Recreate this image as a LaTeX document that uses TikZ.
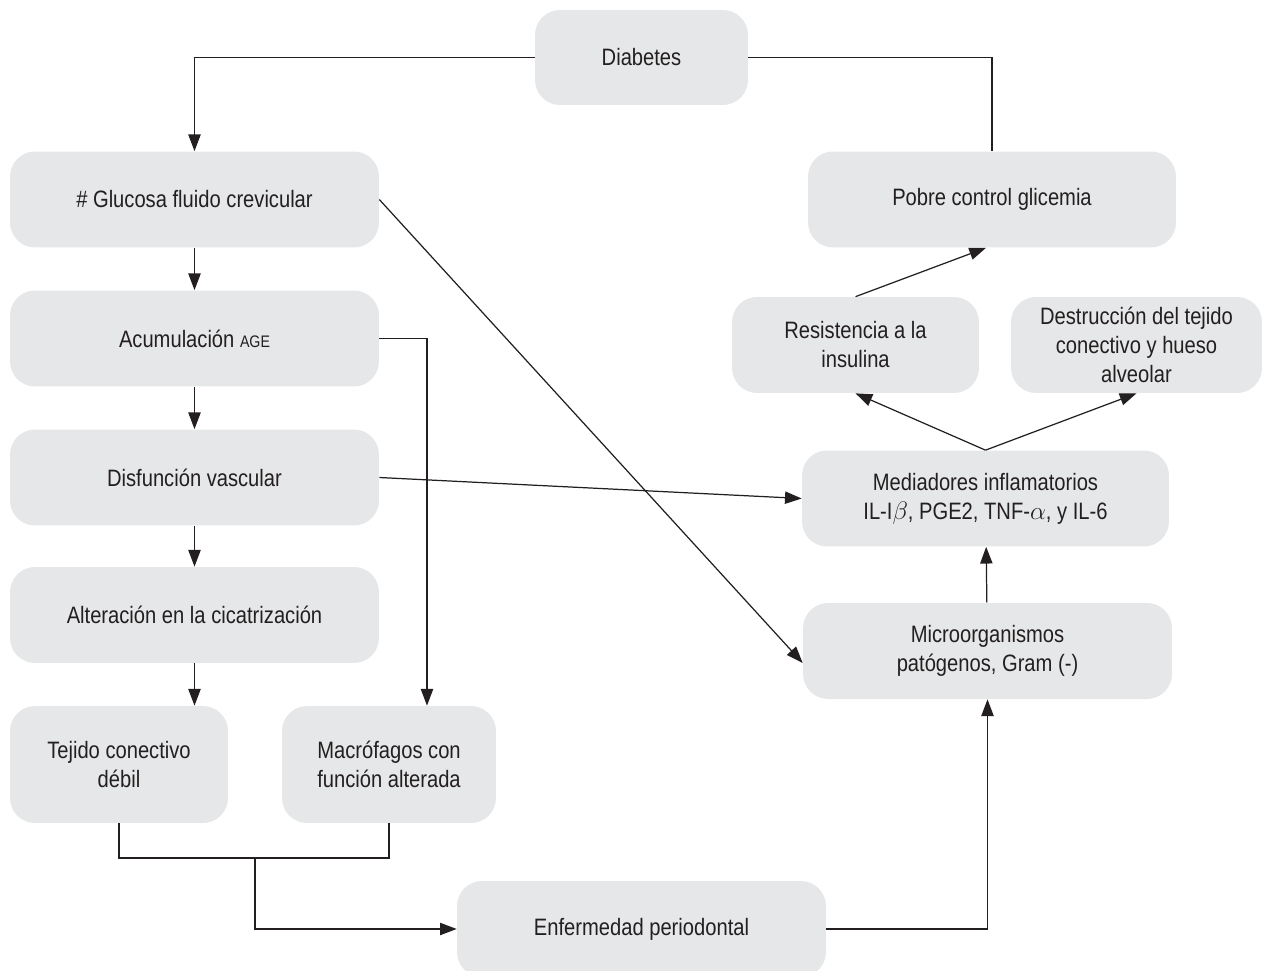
\documentclass[tikz,border=0pt]{standalone}
\usepackage{fontspec}
\setmainfont{Liberation Sans}[FakeStretch=0.85]
\usetikzlibrary{arrows.meta}
\definecolor{boxgray}{HTML}{E6E7E8}
\definecolor{inkgray}{HTML}{231F20}
\tikzstyle{box} = [rounded corners=0.5cm, fill=boxgray, text=inkgray, align=center, inner sep=0pt, font=\fontsize{13.5}{16.5}\selectfont]
\tikzstyle{wide} = [box, minimum width=7.38cm, minimum height=1.92cm]
\tikzstyle{link} = [draw=inkgray, line width=0.7pt]
\tikzset{>={Triangle[length=9.5pt,width=7pt]}}

\begin{document}
\begin{tikzpicture}[x=0.02cm, y=-0.02cm]
  \useasboundingbox (0,0) rectangle (1264,970);
  % Left column
  \node[box, minimum width=4.26cm, minimum height=1.9cm] (diabetes) at (641.5,57.5) {Diabetes};
  \node[wide] (glucosa) at (194.5,199.5) {\# Glucosa fluido crevicular};
  \node[wide] (age) at (194.5,338.5) {Acumulación {\fontsize{9.5}{11}\selectfont AGE}};
  \node[wide] (vascular) at (194.5,477.5) {Disfunción vascular};
  \node[wide] (cicatriz) at (194.5,615) {Alteración en la cicatrización};
  \node[box, minimum width=4.36cm, minimum height=2.34cm] (tejido) at (119,764.5) {Tejido conectivo\\débil};
  \node[box, minimum width=4.28cm, minimum height=2.34cm] (macro) at (389,764.5) {Macrófagos con\\función alterada};
  \node[wide] (perio) at (641.5,929) {Enfermedad periodontal};
  % Right column
  \node[wide, minimum width=7.36cm] (glicemia) at (992,199.5) {Pobre control glicemia};
  \node[box, minimum width=4.94cm, minimum height=1.92cm] (insulina) at (855.5,345) {Resistencia a la\\insulina};
  \node[box, minimum width=5.02cm, minimum height=1.92cm] (hueso) at (1136.5,345) {Destrucción del tejido\\conectivo y hueso\\alveolar};
  \node[wide, minimum width=7.34cm] (mediadores) at (985.5,498.5) {Mediadores inflamatorios\\IL-I$\beta$, PGE2, TNF-$\alpha$, y IL-6};
  \node[wide] (micro) at (987.5,651) {Microorganismos\\patógenos, Gram (-)};
  % Connectors
  \draw[link, ->] (diabetes.west) -| (glucosa.north);
  \draw[link] (diabetes.east) -| (glicemia.north);
  \draw[link, ->] (glucosa) -- (age);
  \draw[link, ->] (age) -- (vascular);
  \draw[link, ->] (vascular) -- (cicatriz);
  \draw[link, ->] (cicatriz.south) -- (cicatriz.south |- tejido.north);
  \draw[link, ->] (age.east) -| ([xshift=0.76cm]macro.north);
  \coordinate (join) at (255,858);
  \draw[link] (tejido.south) |- (join) -| (macro.south);
  \draw[link, ->] (join) |- (perio.west);
  \draw[link, ->] (perio.east) -| (micro.south);
  \draw[link, ->] (micro) -- (mediadores);
  \draw[link, ->] (mediadores.north) -- (insulina.south);
  \draw[link, ->] (mediadores.north) -- (hueso.south);
  \draw[link, ->] (insulina.north) -- ([xshift=-0.12cm]glicemia.south);
  \draw[link, ->] (glucosa.east) -- ([yshift=-0.24cm]micro.west);
  \draw[link, ->] (vascular.east) -- (mediadores.west);
\end{tikzpicture}
\end{document}
